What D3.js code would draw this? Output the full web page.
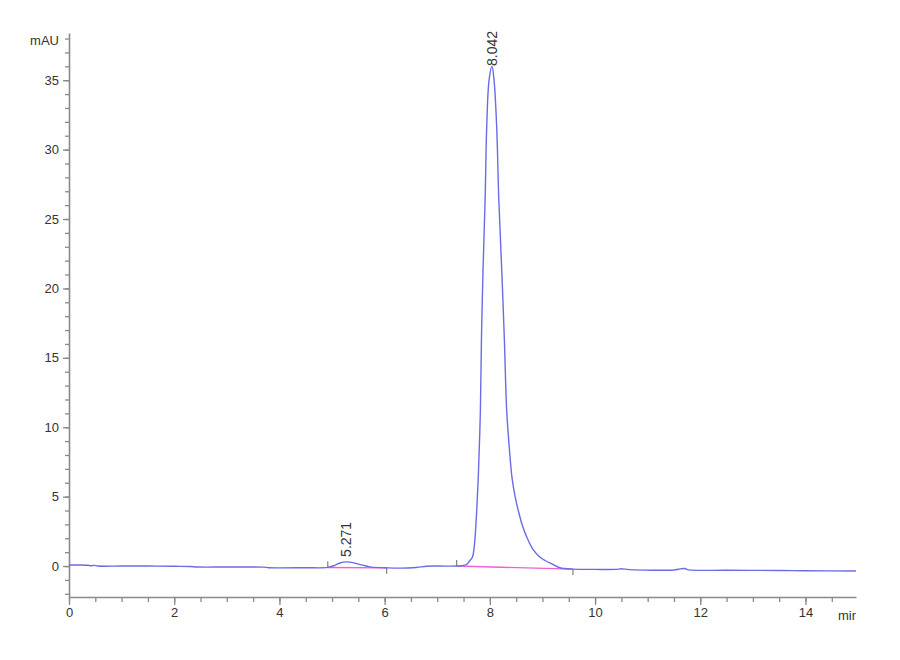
<!DOCTYPE html>
<html>
<head>
<meta charset="utf-8">
<script src="https://cdn.jsdelivr.net/npm/d3@7"></script>
<style>
  body { margin: 0; background: #fff; }
  text { font-family: "Liberation Sans Narrow", "Arial Narrow", "Liberation Sans", sans-serif; }
</style>
</head>
<body>
<div id="chart"></div>
<script>
// chromatogram trace (min, mAU)
var timeMin = [0.00, 0.20, 0.35, 0.42, 0.48, 0.55, 1.00, 1.50, 2.00, 2.30, 2.45, 3.00, 3.70, 3.80, 4.50,
  4.92, 5.05, 5.15, 5.27, 5.40, 5.52, 5.65, 5.75, 6.00, 6.30, 6.60, 6.80, 7.00, 7.37,
  7.50, 7.57, 7.62, 7.67, 7.70, 7.72, 7.75, 7.78, 7.82, 7.84, 7.87, 7.91, 7.94, 7.985, 8.04,
  8.08, 8.13, 8.17, 8.226, 8.276, 8.32, 8.37, 8.42, 8.48, 8.54, 8.62, 8.70, 8.82, 8.95, 9.05, 9.18, 9.33, 9.58,
  10.00, 10.40, 10.50, 10.65, 11.50, 11.62, 11.70, 11.78, 12.50, 13.50, 14.00, 14.96];
var signal = [0.07, 0.08, 0.06, 0.02, 0.05, 0.00, 0.00, 0.00, -0.02, -0.03, -0.07, -0.07, -0.08, -0.12, -0.12,
  -0.10, 0.05, 0.22, 0.30, 0.25, 0.12, 0.00, -0.08, -0.12, -0.15, -0.10, -0.02, 0.00, 0.00,
  0.05, 0.15, 0.40, 0.65, 1.30, 2.10, 4.00, 6.40, 11.20, 16.30, 21.30, 26.40, 31.60, 35.00, 36.00,
  35.00, 31.60, 26.40, 21.30, 16.30, 11.20, 8.50, 6.40, 5.00, 4.00, 2.90, 2.10, 1.20, 0.65, 0.40, 0.15, -0.12, -0.22,
  -0.24, -0.24, -0.20, -0.26, -0.28, -0.20, -0.18, -0.28, -0.30, -0.32, -0.34, -0.36];

// integrated peaks
var peakLabels = ["5.271", "8.042"];
var peakRT = [5.271, 8.042];
var peakApex = [0.30, 36.0];
var peakStart = [4.92, 7.37];
var peakStartVal = [-0.10, 0.00];
var peakEnd = [6.04, 9.58];
var peakEndVal = [-0.13, -0.22];

var xTicks = [0, 2, 4, 6, 8, 10, 12, 14];
var yTicks = [0, 5, 10, 15, 20, 25, 30, 35];

var margin = { top: 33, right: 44, bottom: 63, left: 69 },
  width = 900 - margin.left - margin.right,
  height = 660 - margin.top - margin.bottom;

var svg = d3.select('#chart')
  .append('svg')
  .attr('width', 900)
  .attr('height', 660);

var g = svg.append('g')
  .attr('transform', 'translate(' + margin.left + ',' + margin.top + ')');

var x = d3.scaleLinear().domain([0, 14.96]).range([0, width]);
var y = d3.scaleLinear().domain([-2.23, 38.4]).range([height, 0]);

var axisColor = '#8a8a8a';

// minor ticks
g.append('g')
  .attr('transform', 'translate(0,' + height + ')')
  .call(d3.axisBottom(x).tickValues(d3.range(0, 14.9, 0.5)).tickSize(5).tickFormat(''))
  .call(function (a) { a.select('.domain').remove(); });
g.append('g')
  .call(d3.axisLeft(y).tickValues(d3.range(-2, 38.5, 1)).tickSize(4).tickFormat(''))
  .call(function (a) { a.select('.domain').remove(); });

// major ticks + axis lines
g.append('g')
  .attr('transform', 'translate(0,' + height + ')')
  .call(d3.axisBottom(x).tickValues(xTicks).tickSize(8).tickSizeOuter(0).tickPadding(3));
g.append('g')
  .call(d3.axisLeft(y).tickValues(yTicks).tickSize(6).tickSizeOuter(0).tickPadding(4));

g.selectAll('.tick line').attr('stroke', axisColor).attr('stroke-width', 1.3);
g.selectAll('.domain').attr('stroke', axisColor).attr('stroke-width', 1.6);
g.selectAll('.tick text').attr('fill', '#333').style('font-size', '13px');

// axis units
g.append('text')
  .attr('x', -10)
  .attr('y', 12)
  .attr('text-anchor', 'end')
  .attr('fill', '#333')
  .style('font-size', '13px')
  .text('mAU');

svg.append('clipPath').attr('id', 'unitclip')
  .append('rect').attr('x', 0).attr('y', 0).attr('width', 856).attr('height', 660);
svg.append('text')
  .attr('clip-path', 'url(#unitclip)')
  .attr('x', 838)
  .attr('y', 620)
  .attr('fill', '#333')
  .style('font-size', '13px')
  .text('min');

// integration baselines
for (var i = 0; i < peakRT.length; i++) {
  g.append('line')
    .attr('x1', x(peakStart[i])).attr('y1', y(peakStartVal[i]))
    .attr('x2', x(peakEnd[i])).attr('y2', y(peakEndVal[i]))
    .attr('stroke', '#f060d0').attr('stroke-width', 1.4);
  // start / end markers
  g.append('line')
    .attr('x1', x(peakStart[i])).attr('x2', x(peakStart[i]))
    .attr('y1', y(peakStartVal[i])).attr('y2', y(peakStartVal[i]) - 6)
    .attr('stroke', '#666').attr('stroke-width', 1);
  g.append('line')
    .attr('x1', x(peakEnd[i])).attr('x2', x(peakEnd[i]))
    .attr('y1', y(peakEndVal[i])).attr('y2', y(peakEndVal[i]) + 6)
    .attr('stroke', '#666').attr('stroke-width', 1);
}

// signal trace
var trace = timeMin.map(function (t, i) { return [t, signal[i]]; });
g.append('path')
  .datum(trace)
  .attr('fill', 'none')
  .attr('stroke', '#6b6be6')
  .attr('stroke-width', 1.4)
  .attr('d', d3.line()
    .x(function (d) { return x(d[0]); })
    .y(function (d) { return y(d[1]); })
    .curve(d3.curveCatmullRom.alpha(0.5)));

// retention time labels, rotated, kept inside the plot
peakRT.forEach(function (rt, i) {
  var lab = g.append('text')
    .attr('fill', '#333')
    .style('font-size', '14px')
    .attr('dy', '0.35em')
    .text(peakLabels[i]);
  var len = lab.node().getComputedTextLength();
  var ly = y(peakApex[i]) - 5;
  if (ly - len < -2) ly = len - 2;
  lab.attr('transform', 'translate(' + x(rt) + ',' + ly + ') rotate(-90)');
});
</script>
</body>
</html>
